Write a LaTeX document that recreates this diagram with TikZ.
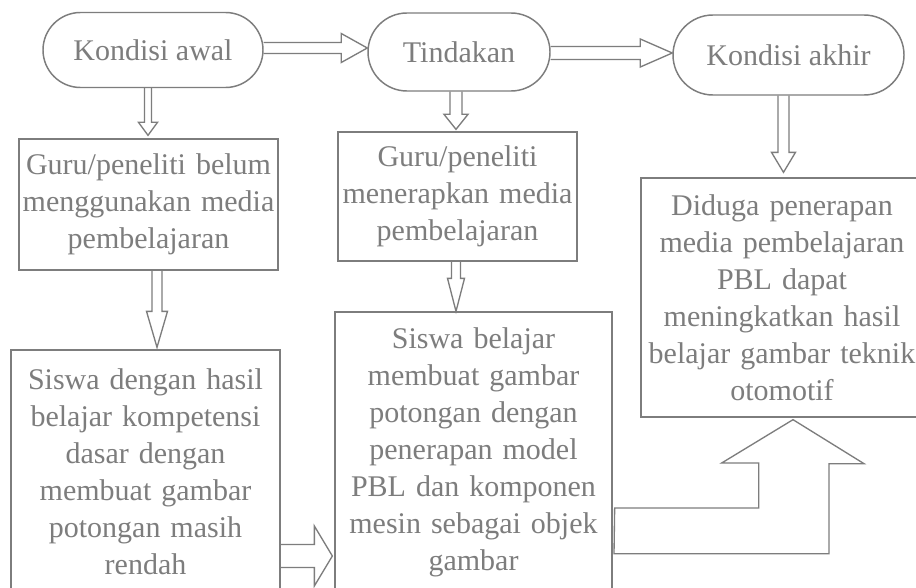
\documentclass[tikz,border=0pt]{standalone}
\usepackage{fontspec}
\setmainfont{Liberation Serif}
\usetikzlibrary{shapes.misc,calc}
\definecolor{ink}{RGB}{125,125,125}
\newdimen\pxu \pxu=0.75pt
\newcommand{\vblock}[5]{%
  \draw[blk] let \p1=(#1), \p2=(#2) in
    (\x1-#3*\pxu,\y1) -- (\x1-#3*\pxu,\y2+#5*\pxu) -- (\x1-#4*\pxu,\y2+#5*\pxu) -- (\x1,\y2)
    -- (\x1+#4*\pxu,\y2+#5*\pxu) -- (\x1+#3*\pxu,\y2+#5*\pxu) -- (\x1+#3*\pxu,\y1);}
\newcommand{\hblock}[5]{%
  \draw[blk] let \p1=(#1), \p2=(#2) in
    (\x1,\y1+#3*\pxu) -- (\x2-#5*\pxu,\y1+#3*\pxu) -- (\x2-#5*\pxu,\y1+#4*\pxu) -- (\x2,\y1)
    -- (\x2-#5*\pxu,\y1-#4*\pxu) -- (\x2-#5*\pxu,\y1-#3*\pxu) -- (\x1,\y1-#3*\pxu);}
\tikzset{
  stadium/.style={rounded rectangle, draw=ink, line width=1.1pt, text=ink, inner sep=0pt,
    font=\fontsize{22.5}{27.75}\selectfont},
  kotak/.style={rectangle, draw=ink, line width=1pt, text=ink, inner sep=0pt, align=center,
    font=\fontsize{22.5}{27.75}\selectfont},
  blk/.style={draw=ink, line width=1pt, line join=miter},
}
\begin{document}
\begin{tikzpicture}[x=0.75pt,y=-0.75pt]
  \useasboundingbox (0,0) rectangle (916,588);
  \clip (0,0) rectangle (916,588);
  \fill[white] (0,0) rectangle (916,588);

  \node[stadium, minimum width=165pt, minimum height=56.25pt] (awal) at (153,50) {Kondisi awal};
  \node[stadium, minimum width=136.5pt, minimum height=58.5pt] (tindakan) at (459,52) {Tindakan};
  \node[stadium, minimum width=173.25pt, minimum height=60pt] (akhir) at (788.5,55) {Kondisi akhir};

  \node[kotak, text width=192pt, minimum width=194.25pt, minimum height=98.25pt] (guru1) at (148.5,204.5)
    {Guru/peneliti belum\\menggunakan media\\pembelajaran};
  \node[kotak, text width=177pt, minimum width=179.25pt, minimum height=96.75pt] (guru2) at (457.5,196.5)
    {Guru/peneliti\\menerapkan media\\pembelajaran};
  \node[kotak, text width=209pt, minimum width=211.5pt, minimum height=179.25pt] (duga) at (782,297.5)
    {Diduga penerapan\\media pembelajaran\\PBL dapat\\meningkatkan hasil\\belajar gambar teknik\\otomotif};
  \node[kotak, text width=199pt, minimum width=201.75pt, minimum height=182.25pt] (siswa1) at (145.5,471.5)
    {Siswa dengan hasil\\belajar kompetensi\\dasar dengan\\membuat gambar\\potongan masih\\rendah};
  \node[kotak, text width=205pt, minimum width=207.75pt, minimum height=210.75pt] (siswa2) at (473.5,452.5)
    {Siswa belajar\\membuat gambar\\potongan dengan\\penerapan model\\PBL dan komponen\\mesin sebagai objek\\gambar};

  \hblock{$(awal.east)+(0,-2)$}{tindakan.west}{5.5}{14.5}{26}
  \hblock{$(tindakan.east)+(0,1)$}{akhir.west}{6.5}{14}{32}
  \vblock{$(awal.south)+(-5,0)$}{$(guru1.north)+(0,-3)$}{3.5}{9.5}{13}
  \vblock{$(guru1.south)+(8.5,0)$}{$(siswa1.north)+(0,-2)$}{5}{10.5}{36}
  \vblock{$(tindakan.south)+(-3,0)$}{$(guru2.north)+(0,-2)$}{6}{12}{15}
  \vblock{$(guru2.south)+(-1.5,0)$}{siswa2.north}{4.5}{8.5}{33}
  \vblock{$(akhir.south)+(-5,0)$}{$(duga.north)+(0,-5)$}{5.5}{12}{20}
  \hblock{$(siswa1.east)+(0,84.5)$}{$(siswa2.west)+(-2,0)$}{11.5}{30}{18}

  \coordinate (tipD) at ($(duga.south)+(11,2)$);
  \draw[blk] ($(siswa2.east)+(2,55.5)$) -- ++(144,0) -- ++(0,-45) -- ++(-37,0) -- (tipD)
    -- ++(71,44) -- ++(-35,0) -- ++(0,90) -- ++(-215,0) -- cycle;
\end{tikzpicture}
\end{document}
